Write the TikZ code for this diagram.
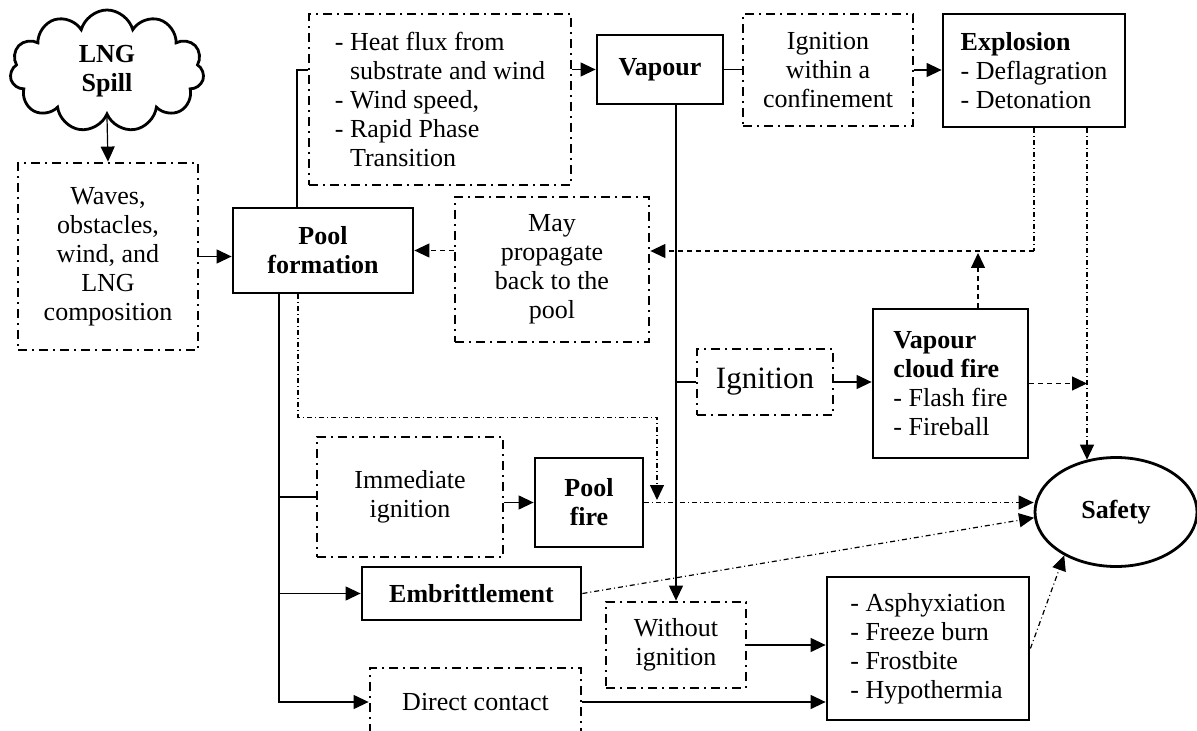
\documentclass[tikz,border=0pt]{standalone}
\usepackage{fontspec}
\setmainfont{Liberation Serif}
\usetikzlibrary{arrows.meta,shapes.geometric,shapes.symbols}

\newcommand{\basefont}{\fontsize{13}{14.5}\selectfont}

\tikzset{
  box/.style={draw, line width=1.4pt, align=center, inner sep=0pt},
  dbox/.style={box, dash pattern=on 4.5pt off 2.5pt on 1pt off 2.5pt},
  bold/.style={font=\basefont\bfseries},
  link/.style={line width=0.6pt},
  arr/.style={link, -{Triangle[length=7.5pt,width=7pt]}},
  dotdash/.style={dash pattern=on 2.5pt off 1.5pt on 0.5pt off 1.5pt},
  dashline/.style={dash pattern=on 2.5pt off 2pt},
}

\begin{document}
\begin{tikzpicture}[x=0.5pt, y=-0.5pt, font=\basefont]
\useasboundingbox (0,0) rectangle (1197,731);

% Source and pool
\node[cloud, draw, line width=1.4pt, cloud puffs=11, aspect=1.6, minimum width=97pt, minimum height=61pt, align=center, bold] (spill) at (107,71) {LNG\\Spill};
\node[dbox, minimum width=90pt, minimum height=93.5pt] (waves) at (108,256.5) {Waves,\\obstacles,\\wind, and\\LNG\\composition};
\node[box, bold, minimum width=90pt, minimum height=42.5pt] (poolform) at (323,250.5) {Pool\\formation};

% Vapour branch
\node[dbox, align=left, minimum width=131pt, minimum height=85.5pt] (heat) at (440,99.5) {- Heat flux from\\\phantom{- }substrate and wind\\- Wind speed,\\- Rapid Phase\\\phantom{- }Transition};
\node[box, bold, minimum width=63pt, minimum height=34.5pt] (vapour) at (660,69.5) {Vapour};
\node[dbox, minimum width=85pt, minimum height=56pt] (ignconf) at (828,70) {Ignition\\within a\\confinement};
\node[box, align=left, minimum width=91pt, minimum height=56.5pt] (explosion) at (1034,70.5) {\textbf{Explosion}\\- Deflagration\\- Detonation};
\node[dbox, minimum width=97pt, minimum height=72.5pt] (mayprop) at (552,269.5) {May\\propagate\\back to the\\pool};
\node[dbox, minimum width=68pt, minimum height=33pt, font=\fontsize{15.5}{17}\selectfont] (ignition) at (765,382) {Ignition};
\node[box, align=left, minimum width=77.5pt, minimum height=74.5pt] (vcf) at (950.5,383.5) {\textbf{Vapour}\\\textbf{cloud fire}\\- Flash fire\\- Fireball};
\node[ellipse, draw, line width=1.4pt, bold, minimum width=81pt, minimum height=54.5pt] (safety) at (1116,512) {Safety};

% Pool branch
\node[dbox, minimum width=93pt, minimum height=60pt] (immign) at (410,497) {Immediate\\ignition};
\node[box, bold, minimum width=54pt, minimum height=44.5pt] (poolfire) at (589,502.5) {Pool\\fire};
\node[box, bold, minimum width=109.5pt, minimum height=26.5pt] (embrit) at (471.5,593.5) {Embrittlement};
\node[dbox, minimum width=105.5pt, minimum height=34pt] (direct) at (475.5,702) {Direct contact};
\node[dbox, minimum width=70pt, minimum height=43pt] (withoutign) at (676,645) {Without\\ignition};
\node[box, align=left, minimum width=101pt, minimum height=71.5pt] (symptoms) at (928,648.5) {- Asphyxiation\\- Freeze burn\\- Frostbite\\- Hypothermia};

% Helper points
\coordinate (trunk) at ([xshift=-22pt]poolform.south);
\coordinate (corner) at (1034,251);
\coordinate (backup) at (978,253);
\coordinate (drop) at (657,500);

% Connectors
\draw[arr] (spill.south) -- (waves.north);
\draw[arr] (waves.east) -- (waves.east -| poolform.west);
\draw[link] ([xshift=-13pt]poolform.north) |- ([yshift=14.75pt]heat.west);
\draw[arr] (heat.east |- vapour.west) -- (vapour.west);
\draw[link] (vapour.east) -- (vapour.east -| ignconf.west);
\draw[arr] (ignconf.east) -- (ignconf.east -| explosion.west);
\draw[link, dotdash] (explosion.south) -- (corner);
\draw[arr, dashline] (corner) -- (corner -| mayprop.east);
\draw[arr, dashline] (mayprop.west |- poolform.east) -- (poolform.east);
\draw[arr, dotdash] (explosion.south -| safety.119) -- (safety.119);
\draw[arr, dashline] (backup |- vcf.north) -- (backup);
\draw[arr, dashline] (vcf.east) -- (vcf.east -| safety.119);
\draw[arr] (vapour.south -| withoutign.north) -- (withoutign.north);
\draw[link] (ignition.west -| withoutign.north) -- (ignition.west);
\draw[arr] (ignition.east) -- (ignition.east -| vcf.west);
\draw[arr, dotdash] ([xshift=-12.5pt]poolform.south) -- ++(0,123) -| (drop);
\draw[arr, dotdash] (poolfire.east) -- (poolfire.east -| safety.west);
\draw[arr] (trunk) |- (direct.west);
\draw[link] (trunk |- immign.west) -- (immign.west);
\draw[arr] (trunk |- embrit.west) -- (embrit.west);
\draw[arr] (immign.east |- poolfire.west) -- (poolfire.west);
\draw[arr, dotdash] (embrit.east) -- (safety.184);
\draw[arr] (withoutign.east) -- (withoutign.east -| symptoms.west);
\draw[arr] (direct.east) -- (direct.east -| symptoms.west);
\draw[arr, dotdash] (symptoms.east) -- (safety.220);

\end{tikzpicture}
\end{document}
